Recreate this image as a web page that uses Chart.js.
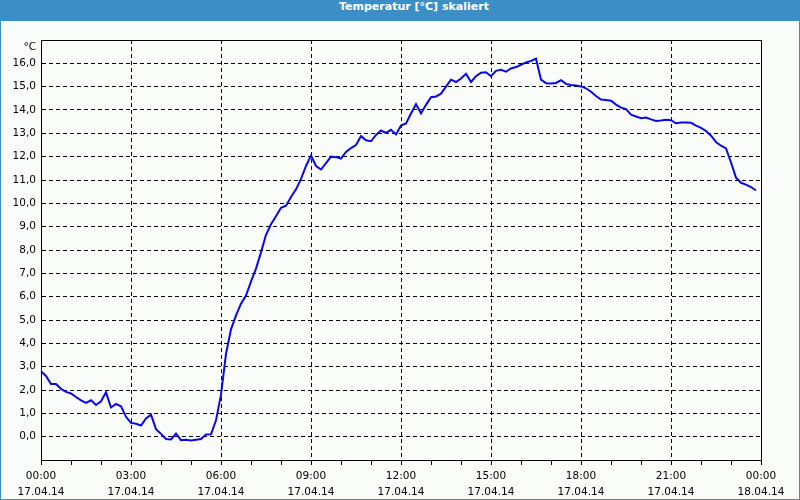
<!DOCTYPE html>
<html>
<head>
<meta charset="utf-8">
<script src="https://cdn.jsdelivr.net/npm/chart.js@4.4.1/dist/chart.umd.min.js"></script>
<style>
  html, body { margin: 0; padding: 0; background: #fff; }
  #wrap {
    width: 800px; height: 500px; box-sizing: border-box;
    border: 1px solid #3c8fc6; border-top: 0;
    background: #fafcfa; overflow: hidden;
  }
  #head {
    height: 21px; line-height: 21px; background: #3c8fc6; color: #fff;
    font: bold 11px "DejaVu Sans", sans-serif; text-align: center;
    padding-left: 28px;
  }
  canvas { display: block; }
</style>
</head>
<body>
<div id="wrap">
  <div id="head">Temperatur [°C] skaliert</div>
  <canvas id="myChart" width="798" height="478"></canvas>
</div>
<script>
// time of day, one sample every 10 minutes (last one is midnight of the next day)
const times = [
  '00:00','00:10','00:20','00:30','00:40','00:50',
  '01:00','01:10','01:20','01:30','01:40','01:50',
  '02:00','02:10','02:20','02:30','02:40','02:50',
  '03:00','03:10','03:20','03:30','03:40','03:50',
  '04:00','04:10','04:20','04:30','04:40','04:50',
  '05:00','05:10','05:20','05:30','05:40','05:50',
  '06:00','06:10','06:20','06:30','06:40','06:50',
  '07:00','07:10','07:20','07:30','07:40','07:50',
  '08:00','08:10','08:20','08:30','08:40','08:50',
  '09:00','09:10','09:20','09:30','09:40','09:50',
  '10:00','10:10','10:20','10:30','10:40','10:50',
  '11:00','11:10','11:20','11:30','11:40','11:50',
  '12:00','12:10','12:20','12:30','12:40','12:50',
  '13:00','13:10','13:20','13:30','13:40','13:50',
  '14:00','14:10','14:20','14:30','14:40','14:50',
  '15:00','15:10','15:20','15:30','15:40','15:50',
  '16:00','16:10','16:20','16:30','16:40','16:50',
  '17:00','17:10','17:20','17:30','17:40','17:50',
  '18:00','18:10','18:20','18:30','18:40','18:50',
  '19:00','19:10','19:20','19:30','19:40','19:50',
  '20:00','20:10','20:20','20:30','20:40','20:50',
  '21:00','21:10','21:20','21:30','21:40','21:50',
  '22:00','22:10','22:20','22:30','22:40','22:50',
  '23:00','23:10','23:20','23:30','23:40','23:50',
  '00:00'
];

// date shown under every 3 hour label
const tickDates = ['17.04.14','17.04.14','17.04.14','17.04.14','17.04.14',
                   '17.04.14','17.04.14','17.04.14','18.04.14'];

// temperature in °C
const temps = [
  2.80, 2.60, 2.26, 2.26, 2.05, 1.92,
  1.85, 1.70, 1.56, 1.45, 1.56, 1.36,
  1.52, 1.90, 1.25, 1.40, 1.30, 0.85,
  0.59, 0.55, 0.48, 0.78, 0.94, 0.32,
  0.12, -0.10, -0.12, 0.13, -0.15, -0.13,
  -0.16, -0.13, -0.10, 0.09, 0.10, 0.70,
  1.80, 3.55, 4.60, 5.20, 5.70, 6.05,
  6.65, 7.20, 7.90, 8.65, 9.10, 9.45,
  9.81, 9.90, 10.27, 10.60, 11.05, 11.60,
  12.05, 11.60, 11.45, 11.72, 12.00, 11.98,
  11.92, 12.20, 12.37, 12.50, 12.88, 12.70,
  12.66, 12.93, 13.12, 13.02, 13.15, 12.95,
  13.33, 13.42, 13.85, 14.25, 13.85, 14.22,
  14.55, 14.58, 14.70, 15.00, 15.30, 15.20,
  15.35, 15.55, 15.20, 15.45, 15.60, 15.62,
  15.45, 15.68, 15.72, 15.64, 15.78, 15.84,
  15.94, 16.04, 16.10, 16.20, 15.30, 15.15,
  15.14, 15.16, 15.28, 15.12, 15.07, 15.05,
  15.01, 14.93, 14.78, 14.60, 14.45, 14.43,
  14.40, 14.23, 14.10, 14.04, 13.80, 13.72,
  13.65, 13.68, 13.60, 13.53, 13.55, 13.58,
  13.56, 13.43, 13.46, 13.46, 13.45, 13.33,
  13.23, 13.10, 12.90, 12.63, 12.47, 12.35,
  11.75, 11.10, 10.88, 10.80, 10.70, 10.55
];

const yMin = -1;
const yMax = 17;
const unit = '°C';

const tickFont = { family: 'DejaVu Sans', size: 10.5 };

// frame on top and right, and the unit above the y labels
const framePlugin = {
  id: 'frame',
  afterDraw(chart) {
    const { ctx, chartArea } = chart;
    ctx.save();
    ctx.strokeStyle = '#000';
    ctx.lineWidth = 1;
    ctx.beginPath();
    ctx.moveTo(chartArea.left, chartArea.top + 0.5);
    ctx.lineTo(chartArea.right + 0.5, chartArea.top + 0.5);
    ctx.lineTo(chartArea.right + 0.5, chartArea.bottom);
    ctx.stroke();
    ctx.fillStyle = '#000';
    ctx.font = '10.5px "DejaVu Sans"';
    ctx.textAlign = 'right';
    ctx.textBaseline = 'middle';
    ctx.fillText(unit, chartArea.left - 5, chartArea.top + 7);
    ctx.restore();
  }
};

const ctx = document.getElementById('myChart').getContext('2d');
const myChart = new Chart(ctx, {
  type: 'line',
  data: {
    labels: times,
    datasets: [{
      data: temps,
      borderColor: '#0808e8',
      borderWidth: 2,
      pointRadius: 0,
      tension: 0,
      fill: false
    }]
  },
  options: {
    responsive: false,
    animation: false,
    devicePixelRatio: 1,
    layout: { padding: { left: 0, top: 19, right: 38, bottom: 0 } },
    plugins: { legend: { display: false }, tooltip: { enabled: false } },
    scales: {
      x: {
        type: 'category',
        offset: false,
        afterFit(scale) { scale.height = 39; },
        border: { color: '#000', width: 1, dash: [4, 3] },
        grid: {
          color: (c) => (c.index % 18 === 0 ? '#000' : 'rgba(0,0,0,0)'),
          tickColor: (c) => (c.index % 6 === 0 ? '#000' : 'rgba(0,0,0,0)'),
          tickBorderDash: [],
          tickLength: 5
        },
        ticks: {
          autoSkip: false,
          maxRotation: 0,
          padding: 3,
          color: '#000',
          font: { ...tickFont, lineHeight: 1.55 },
          callback(value, index) {
            if (index % 18 !== 0) return '';
            return [times[index], tickDates[index / 18]];
          }
        }
      },
      y: {
        min: yMin,
        max: yMax,
        afterFit(scale) { scale.width = 40; },
        border: { color: '#000', width: 1, dash: [4, 3] },
        grid: {
          drawTicks: false,
          color: (c) => (c.tick.value >= 0 && c.tick.value < yMax ? '#000' : 'rgba(0,0,0,0)')
        },
        ticks: {
          stepSize: 1,
          padding: 5,
          color: '#000',
          font: tickFont,
          callback(value) {
            if (value < 0 || value >= yMax) return '';
            return value.toFixed(1).replace('.', ',');
          }
        }
      }
    }
  },
  plugins: [framePlugin]
});
</script>
</body>
</html>
